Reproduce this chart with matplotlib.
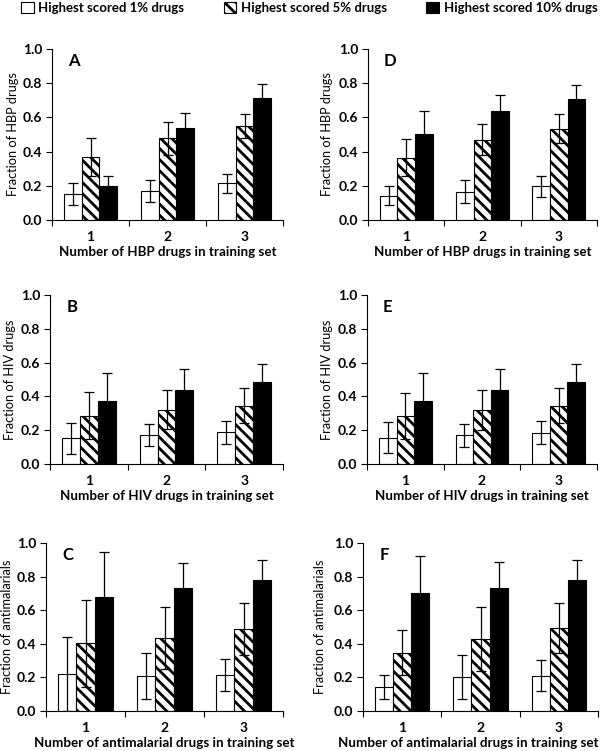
import matplotlib
matplotlib.use("Agg")
import matplotlib.pyplot as plt
from matplotlib.patches import Patch
import numpy as np

plt.rcParams['font.family'] = ['Lato', 'DejaVu Sans']
plt.rcParams['hatch.linewidth'] = 2.0

groups = ["1", "2", "3"]
series_labels = ["Highest scored 1% drugs", "Highest scored 5% drugs", "Highest scored 10% drugs"]

# Panel A (HBP, left)
A_vals = [[0.15, 0.17, 0.215], [0.367, 0.477, 0.55], [0.20, 0.537, 0.713]]
A_errs = [[0.065, 0.065, 0.055], [0.11, 0.095, 0.07], [0.06, 0.088, 0.08]]
# Panel B (HIV, left)
B_vals = [[0.152, 0.171, 0.187], [0.285, 0.32, 0.345], [0.37, 0.44, 0.485]]
B_errs = [[0.09, 0.067, 0.067], [0.14, 0.115, 0.105], [0.17, 0.125, 0.105]]
# Panel C (antimalarials, left)
C_vals = [[0.22, 0.207, 0.215], [0.402, 0.437, 0.489], [0.676, 0.734, 0.777]]
C_errs = [[0.22, 0.137, 0.093], [0.26, 0.185, 0.153], [0.272, 0.149, 0.123]]
# Panel D (HBP, right)
D_vals = [[0.143, 0.166, 0.197], [0.363, 0.47, 0.533], [0.504, 0.638, 0.71]]
D_errs = [[0.056, 0.066, 0.062], [0.108, 0.09, 0.085], [0.136, 0.092, 0.078]]
# Panel E (HIV, right)
E_vals = [[0.155, 0.17, 0.186], [0.283, 0.317, 0.345], [0.37, 0.44, 0.486]]
E_errs = [[0.092, 0.067, 0.068], [0.138, 0.118, 0.105], [0.167, 0.125, 0.104]]
# Panel F (antimalarials, right)
F_vals = [[0.145, 0.205, 0.21], [0.348, 0.43, 0.493], [0.702, 0.732, 0.777]]
F_errs = [[0.072, 0.131, 0.093], [0.135, 0.19, 0.15], [0.222, 0.155, 0.123]]

ylabels = {"HBP": "Fraction of HBP drugs", "HIV": "Fraction of HIV drugs", "MAL": "Fraction of antimalarials"}
xlabels = {"HBP": "Number of HBP drugs in training set", "HIV": "Number of HIV drugs in training set",
           "MAL": "Number of antimalarial drugs in training set"}

# letter, kind, values, errors, axes box [left, right, top, bottom] px, xlabel x frac, ylabel right edge px
panels = [
    ("A", "HBP", A_vals, A_errs, [52, 283, 49, 220], 0.5, 19),
    ("D", "HBP", D_vals, D_errs, [368, 597, 49, 220], 0.5, 333),
    ("B", "HIV", B_vals, B_errs, [50, 283, 295, 464], 0.5, 16),
    ("E", "HIV", E_vals, E_errs, [367, 597, 295, 464], 0.5, 333),
    ("C", "MAL", C_vals, C_errs, [46, 283, 543, 711], 0.5, 13),
    ("F", "MAL", F_vals, F_errs, [363, 598, 543, 711], 0.45, 326),
]

W, H = 600, 751
fig = plt.figure(figsize=(W / 100, H / 100), dpi=100)

faces = ["white", "white", "black"]
hatches = [None, "\\\\\\", None]
bw = 0.23
offsets = [-bw, 0, bw]

for letter, kind, vals, errs, (l, r, t, b), xlab_x, ylab_r in panels:
    ax = fig.add_axes([l / W, 1 - b / H, (r - l) / W, (b - t) / H])
    x = np.arange(len(groups))
    for i in range(3):
        ax.bar(x + offsets[i], vals[i], bw, color=faces[i], edgecolor="black", linewidth=0.8,
               hatch=hatches[i], zorder=2)
        ax.errorbar(x + offsets[i], vals[i], yerr=errs[i], fmt="none", ecolor="black",
                    elinewidth=0.9, capsize=3.5, capthick=0.9, zorder=3)
    ax.set_xlim(-0.5, 2.5)
    ax.set_ylim(0, 1.0)
    ax.set_yticks(np.arange(0, 1.01, 0.2))
    ax.set_yticklabels([f"{v:.1f}" for v in np.arange(0, 1.01, 0.2)], fontweight="bold", fontsize=10)
    ax.set_xticks(x)
    ax.set_xticklabels(groups, fontweight="bold", fontsize=10)
    ax.set_xticks([-0.5, 0.5, 1.5, 2.5], minor=True)
    ax.tick_params(axis="x", which="major", length=0, pad=8)
    ax.tick_params(axis="x", which="minor", length=4, width=0.8, direction="out")
    ax.tick_params(axis="y", length=4, width=0.8, direction="out", pad=3)
    for s in ["top", "right"]:
        ax.spines[s].set_visible(False)
    for s in ["left", "bottom"]:
        ax.spines[s].set_linewidth(0.8)
    ax.set_xlabel(xlabels[kind], fontweight="bold", fontsize=9.6, labelpad=2, x=xlab_x)
    ax.set_ylabel(ylabels[kind], fontsize=9.2)
    ax.yaxis.set_label_coords((ylab_r - l) / (r - l), 0.5)
    ax.text(0.07, 0.93, letter, transform=ax.transAxes, fontweight="bold", fontsize=12,
            va="center", ha="left")

handles = [Patch(facecolor="white", edgecolor="black", linewidth=0.8),
           Patch(facecolor="white", edgecolor="black", linewidth=0.8, hatch="\\\\\\"),
           Patch(facecolor="black", edgecolor="black", linewidth=0.8)]
fig.legend(handles, series_labels, loc="upper left", bbox_to_anchor=(21 / W, 1 - 2 / H), ncol=3,
           frameon=False, prop={"weight": "bold", "size": 9.5},
           handlelength=0.95, handleheight=0.95, handletextpad=0.35, columnspacing=3.0,
           borderpad=0, borderaxespad=0)

fig.savefig("out.png", dpi=100)
